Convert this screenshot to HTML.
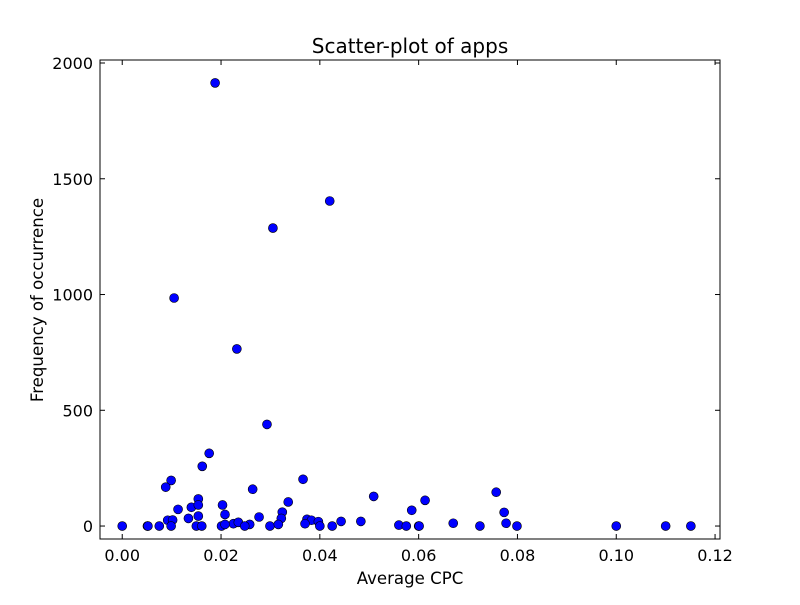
<!DOCTYPE html>
<html><head><meta charset="utf-8"><style>
html,body{margin:0;padding:0;background:#fff;}
svg text{font-family:"DejaVu Sans","Liberation Sans",sans-serif;fill:#000;}
</style></head><body>
<svg id="chart" width="800" height="600" viewBox="0 0 800 600" xmlns="http://www.w3.org/2000/svg">
<rect width="800" height="600" fill="#fff"/>
<text x="410" y="53" font-size="20" text-anchor="middle">Scatter-plot of apps</text>
<text x="410" y="584" font-size="16.6" text-anchor="middle">Average CPC</text>
<text transform="translate(43,300) rotate(-90)" font-size="16.6" text-anchor="middle">Frequency of occurrence</text>
<g id="ticks"></g>
<g id="points"></g>
<rect x="100" y="60" width="620" height="479" fill="none" stroke="#000" stroke-width="1"/>
</svg>
<script>
const xValues=[0,0.0293,0.0176,0.0162,0.0099,0.0088,0.0366,0.0264,0.0509,0.0336,0.0113,0.014,0.0154,0.0154,0.0203,0.0208,0.0324,0.0322,0.0277,0.0134,0.0154,0.0092,0.0102,0.0586,0.0483,0.0443,0.0374,0.0383,0.0397,0.037,0.0225,0.0235,0.0258,
0.0051,0.0052,0.0075,0.0099,0.015,0.0161,0.0201,0.0208,0.0248,0.0299,0.0316,0.04,0.0425,0.056,0.0575,0.06,0.0601,
0.0613,0.067,0.0724,0.0757,0.0773,0.0777,0.0799,0.1,0.11,0.1151,
0.0188,0.042,0.0305,0.0105,0.0232];
const yValues=[0,439,314,258,197,168,202,159,128,104,72,81,117,91,91,50,60,33,39,33,43,25,26,68,20,20,29,25,19,10,10,16,7,
0,0,0,0,0,0,0,7,0,0,7,0,0,4,0,0,0,
111,12,0,146,59,12,0,0,0,0,
1914,1404,1287,985,765];
const xTicks=[0,0.02,0.04,0.06,0.08,0.10,0.12];
const xTickLabels=["0.00","0.02","0.04","0.06","0.08","0.10","0.12"];
const yTicks=[0,500,1000,1500,2000];
const yTickLabels=["0","500","1000","1500","2000"];
const X0=100,X1=720,Y0=60,Y1=539;
const xMin=-0.0045,xMax=0.121,yMin=-56,yMax=2013;
function xs(v){return X0+(v-xMin)/(xMax-xMin)*(X1-X0);}
function ys(v){return Y1-(v-yMin)/(yMax-yMin)*(Y1-Y0);}
const NS="http://www.w3.org/2000/svg";
const tg=document.getElementById('ticks');
function line(x1,y1,x2,y2){const l=document.createElementNS(NS,'line');l.setAttribute('x1',x1);l.setAttribute('y1',y1);l.setAttribute('x2',x2);l.setAttribute('y2',y2);l.setAttribute('stroke','#000');


tg.appendChild(l);}
xTicks.forEach((t,i)=>{const x=xs(t);line(x,Y1,x,Y1-5);line(x,Y0,x,Y0+5);
const tx=document.createElementNS(NS,'text');tx.setAttribute('x',x);tx.setAttribute('y',Y1+22);tx.setAttribute('font-size','16');tx.setAttribute('text-anchor','middle');tx.textContent=xTickLabels[i];


tg.appendChild(tx);});
yTicks.forEach((t,i)=>{const y=ys(t);line(X0,y,X0+5,y);line(X1,y,X1-5,y);
const tx=document.createElementNS(NS,'text');tx.setAttribute('x',X0-7);tx.setAttribute('y',y+6);tx.setAttribute('font-size','16');tx.setAttribute('text-anchor','end');tx.textContent=yTickLabels[i];


tg.appendChild(tx);});
const pg=document.getElementById('points');
xValues.forEach((v,i)=>{const c=document.createElementNS(NS,'circle');c.setAttribute('cx',xs(v));c.setAttribute('cy',ys(yValues[i]));c.setAttribute('r','4.5');c.setAttribute('fill','#0000ff');c.setAttribute('stroke','#000');c.setAttribute('stroke-width','0.6');


pg.appendChild(c);});
</script>
</body></html>
